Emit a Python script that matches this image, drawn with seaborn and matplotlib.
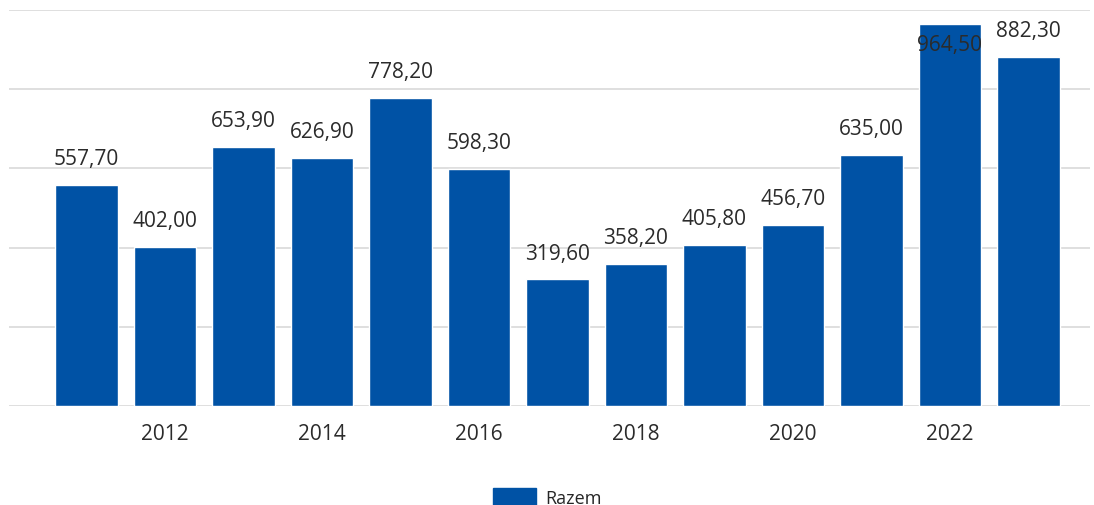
import matplotlib
matplotlib.use("Agg")
import matplotlib.pyplot as plt
import seaborn as sns
import pandas as pd
from matplotlib.patches import Patch

# data
years = [2011, 2012, 2013, 2014, 2015, 2016, 2017, 2018, 2019, 2020, 2021, 2022, 2023]
values = [557.7, 402.0, 653.9, 626.9, 778.2, 598.3, 319.6, 358.2, 405.8, 456.7, 635.0, 964.5, 882.3]
series_name = "Razem"
tick_years = [2012, 2014, 2016, 2018, 2020, 2022]

bar_color = "#0052a5"
text_color = "#2b2b2b"

sns.set_style("white")
plt.rcParams['font.family'] = ['Open Sans', 'DejaVu Sans']

df = pd.DataFrame({"year": [str(y) for y in years], "value": values})

fig = plt.figure(figsize=(10.94, 5.06), dpi=100)
ax = fig.add_axes([0.008, 0.1957, 0.988, 0.7826])

sns.barplot(data=df, x="year", y="value", color=bar_color, saturation=1,
            width=0.8, ax=ax, zorder=2)

ax.set_ylim(0, 1000)
ax.set_xlim(-0.99, 12.78)
ax.set_yticks([0, 200, 400, 600, 800, 1000])
ax.set_yticklabels([])
ax.yaxis.grid(True, color="#dcdcdc", linewidth=1.3, zorder=0)
ax.set_axisbelow(True)
for s in ax.spines.values():
    s.set_visible(False)
ax.tick_params(axis="both", length=0)

pos = [years.index(y) for y in tick_years]
ax.set_xticks(pos)
ax.set_xticklabels([str(y) for y in tick_years], fontsize=15, color=text_color)
ax.tick_params(axis="x", pad=12)
ax.set_xlabel("")
ax.set_ylabel("")

# value labels (polish decimal comma)
for i, v in enumerate(values):
    lbl = f"{v:.2f}".replace(".", ",")
    off = 19
    if v + 75 > 1000:
        off = -15
    ax.annotate(lbl, (i, v), xytext=(0, off), textcoords="offset points",
                ha="center", va="center", fontsize=15, color=text_color)

fig.legend(handles=[Patch(color=bar_color, label=series_name)],
           loc="center", bbox_to_anchor=(0.5, 0.015), frameon=False,
           fontsize=13, handlelength=2.4, handleheight=1.1, handletextpad=0.5)

fig.savefig("out.png", dpi=100)
